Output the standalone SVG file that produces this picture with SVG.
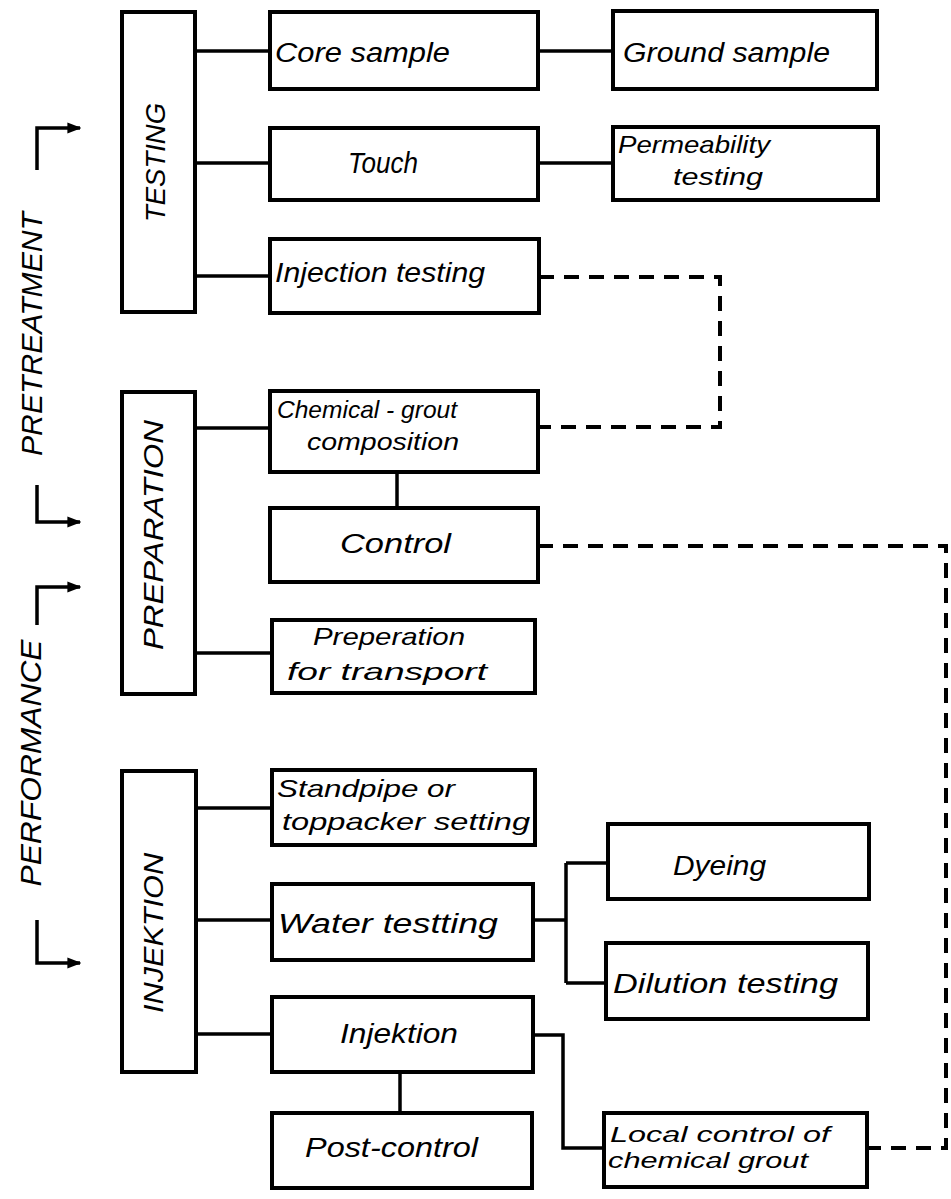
<svg xmlns="http://www.w3.org/2000/svg" width="951" height="1199" viewBox="0 0 951 1199">
<style>
.box{fill:#fff;stroke:#000;stroke-width:4}
.ln{fill:none;stroke:#000;stroke-width:3.5}
.dash{fill:none;stroke:#000;stroke-width:4;stroke-dasharray:15 10}
text{font-family:"Liberation Sans","DejaVu Sans",sans-serif;font-style:italic;font-size:27px;fill:#000}
.big{font-size:28px}
.side{font-size:29px}
.sm{font-size:24px}
.xs{font-size:22px}
.tall{font-size:29px}
</style>
<defs>
<marker id="ah" viewBox="0 0 10 10" refX="9" refY="5" markerWidth="4" markerHeight="4" orient="auto" markerUnits="strokeWidth">
<path d="M0,1 L10,5 L0,9 z" fill="#000"/>
</marker>
</defs>
<rect width="951" height="1199" fill="#fff"/>

<g id="connectors">
<path class="ln" d="M195,51 H270"/>
<path class="ln" d="M538,51 H613"/>
<path class="ln" d="M195,163 H270"/>
<path class="ln" d="M538,163 H613"/>
<path class="ln" d="M195,276 H270"/>
<path class="ln" d="M195,428 H270"/>
<path class="ln" d="M397,472 V508"/>
<path class="ln" d="M195,653 H272"/>
<path class="ln" d="M195,808 H272"/>
<path class="ln" d="M195,920 H272"/>
<path class="ln" d="M533,920 H566 M566,863 V983 M566,863 H608 M566,983 H606"/>
<path class="ln" d="M195,1034 H272"/>
<path class="ln" d="M400,1072 V1113"/>
<path class="ln" d="M533,1035 H563 V1148 H604"/>
<path class="dash" d="M539,277 H720 V427 H538"/>
<path class="dash" d="M538,546 H946 V1148 H867"/>
<path class="ln" d="M37,170 V128 H80" marker-end="url(#ah)"/>
<path class="ln" d="M37,485 V522 H80" marker-end="url(#ah)"/>
<path class="ln" d="M37,625 V587 H80" marker-end="url(#ah)"/>
<path class="ln" d="M37,920 V963 H80" marker-end="url(#ah)"/>
</g>

<g id="phase-labels">
<text class="side" transform="translate(42,334) rotate(-90)" text-anchor="middle" textLength="244" lengthAdjust="spacingAndGlyphs">PRETREATMENT</text>
<text class="side" transform="translate(41,763) rotate(-90)" text-anchor="middle" textLength="247" lengthAdjust="spacingAndGlyphs">PERFORMANCE</text>
</g>

<g id="testing">
<rect class="box" x="122" y="12" width="73" height="300"/>
<text class="big" transform="translate(165,162.5) rotate(-90)" text-anchor="middle" textLength="119" lengthAdjust="spacingAndGlyphs">TESTING</text>
</g>
<g id="core-sample">
<rect class="box" x="270" y="12" width="268" height="77"/>
<text x="275" y="62" textLength="175" lengthAdjust="spacingAndGlyphs">Core  sample</text>
</g>
<g id="ground-sample">
<rect class="box" x="613" y="11" width="264" height="78"/>
<text x="623" y="62" textLength="207" lengthAdjust="spacingAndGlyphs">Ground  sample</text>
</g>
<g id="touch">
<rect class="box" x="270" y="128" width="268" height="72"/>
<text class="tall" x="348" y="173" textLength="70" lengthAdjust="spacingAndGlyphs">Touch</text>
</g>
<g id="permeability">
<rect class="box" x="613" y="127" width="265" height="73"/>
<text class="sm" x="618" y="153" textLength="152" lengthAdjust="spacingAndGlyphs">Permeability</text>
<text class="sm" x="673" y="185" textLength="90" lengthAdjust="spacingAndGlyphs">testing</text>
</g>
<g id="injection-testing">
<rect class="box" x="270" y="239" width="269" height="74"/>
<text x="275" y="282" textLength="210" lengthAdjust="spacingAndGlyphs">Injection testing</text>
</g>

<g id="preparation">
<rect class="box" x="122" y="392" width="73" height="302"/>
<text class="big" transform="translate(163,535) rotate(-90)" text-anchor="middle" textLength="230" lengthAdjust="spacingAndGlyphs">PREPARATION</text>
</g>
<g id="chemical-grout">
<rect class="box" x="270" y="391" width="268" height="81"/>
<text class="sm" x="277" y="418" textLength="180" lengthAdjust="spacingAndGlyphs">Chemical - grout</text>
<text class="sm" x="307" y="450" textLength="152" lengthAdjust="spacingAndGlyphs">composition</text>
</g>
<g id="control">
<rect class="box" x="270" y="508" width="268" height="74"/>
<text x="340" y="553" textLength="111" lengthAdjust="spacingAndGlyphs">Control</text>
</g>
<g id="preperation-transport">
<rect class="box" x="272" y="620" width="263" height="73"/>
<text class="sm" x="313" y="645" textLength="152" lengthAdjust="spacingAndGlyphs">Preperation</text>
<text class="sm" x="287" y="680" textLength="200" lengthAdjust="spacingAndGlyphs">for  transport</text>
</g>

<g id="injektion-phase">
<rect class="box" x="122" y="771" width="74" height="301"/>
<text class="big" transform="translate(163,933) rotate(-90)" text-anchor="middle" textLength="160" lengthAdjust="spacingAndGlyphs">INJEKTION</text>
</g>
<g id="standpipe">
<rect class="box" x="272" y="770" width="263" height="75"/>
<text class="sm" x="277" y="797" textLength="178" lengthAdjust="spacingAndGlyphs">Standpipe  or</text>
<text class="sm" x="282" y="830" textLength="248" lengthAdjust="spacingAndGlyphs">toppacker setting</text>
</g>
<g id="water-testting">
<rect class="box" x="272" y="884" width="261" height="76"/>
<text x="278" y="933" textLength="220" lengthAdjust="spacingAndGlyphs">Water  testting</text>
</g>
<g id="dyeing">
<rect class="box" x="608" y="824" width="261" height="75"/>
<text x="673" y="875" textLength="93" lengthAdjust="spacingAndGlyphs">Dyeing</text>
</g>
<g id="dilution-testing">
<rect class="box" x="606" y="943" width="262" height="76"/>
<text x="613" y="993" textLength="225" lengthAdjust="spacingAndGlyphs">Dilution  testing</text>
</g>
<g id="injektion">
<rect class="box" x="272" y="997" width="261" height="75"/>
<text x="340" y="1043" textLength="118" lengthAdjust="spacingAndGlyphs">Injektion</text>
</g>
<g id="post-control">
<rect class="box" x="272" y="1113" width="260" height="75"/>
<text x="305" y="1157" textLength="173" lengthAdjust="spacingAndGlyphs">Post-control</text>
</g>
<g id="local-control">
<rect class="box" x="604" y="1113" width="263" height="74"/>
<text class="xs" x="610" y="1142" textLength="220" lengthAdjust="spacingAndGlyphs">Local control of</text>
<text class="xs" x="608" y="1168" textLength="200" lengthAdjust="spacingAndGlyphs">chemical grout</text>
</g>
</svg>
